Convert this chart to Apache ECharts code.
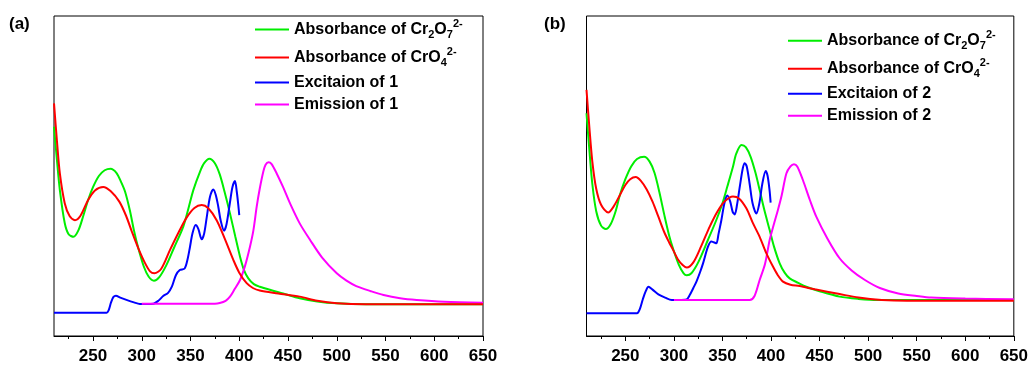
<!DOCTYPE html>
<html>
<head>
<meta charset="utf-8">
<script src="https://cdn.jsdelivr.net/npm/echarts@6/dist/echarts.min.js"></script>
<style>html,body{margin:0;padding:0;background:#fff}#c{width:1031px;height:365px}</style>
</head>
<body>
<div id="c"></div>
<script>
// ---- data (x = wavelength / nm, y = relative intensity) ----
const majorTicks = [250,300,350,400,450,500,550,600,650];
const minorTicks = [225,275,325,375,425,475,525,575,625];
const panelLabels = ['(a)','(b)'];
const seriesNames = ['Absorbance of Cr2O7','Absorbance of CrO4','Excitaion of 1','Emission of 1','Excitaion of 2','Emission of 2'];

const absCr2O7A = [[210,65.4],[213,55],[216,45.6],[221,35.3],[225,31.8],[230,31],[235,33],[240,37.5],[245,42.5],[250,46.5],[256,50],[262,51.8],[268,52.3],[274,51],[279,48],[283,45],[288,39],[292,33],[296.5,27.4],[302,21.8],[307,18.6],[312.5,17.3],[318,18.4],[325,22],[333,27.5],[342.6,34.2],[348,40],[352.9,45.6],[359.8,51.4],[364,54],[369.3,55.4],[375,54],[380,50.5],[385,45],[390.5,38.3],[396,31],[400.8,24.8],[405,20.5],[409.3,18],[415,16.2],[421,15.4],[433,14.3],[445,13.3],[462,11.8],[480,10.8],[500,10.2],[530,9.9],[650,9.9]];
const absCrO4A = [[210,72.7],[213,61],[216,50.8],[221,41.5],[226,37.5],[231.5,36.2],[237,37.5],[245,42.5],[252,45.5],[260.5,46.6],[268,45.3],[277,42],[284,37.5],[290,32.5],[296.5,27.4],[303,23],[308.5,20.2],[313,19.6],[320,21],[329,26.9],[338,32.5],[346,37],[354,40],[361.5,40.9],[368,40],[376.8,36.2],[385,30.5],[393.9,23.8],[400,19.8],[407.6,16.5],[414,15],[421,14.2],[440,13.3],[462,12.3],[480,11],[500,10.2],[530,9.9],[650,9.9]];
const excA = [[210,7.3],[264,7.3],[266,8],[268.5,10.5],[271,12.2],[273.5,12.6],[278,12],[285,11.2],[292,10.5],[298,10],[305,10],[312,10.1],[317,11],[322,12.5],[327,13.5],[331,15.5],[335,19],[339,20.6],[344,21.1],[347,24],[349.5,27.9],[352,32],[355.3,34.7],[358,33.5],[361.5,30.2],[364,32],[366.6,37],[370,43.5],[373.4,45.8],[376,44],[378.5,40.4],[381,36],[384.4,32.9],[387,35],[390.5,41.8],[393,46.5],[395.6,48.4],[397.5,45],[399,41],[400,37.8]];
const emA = [[300,10.1],[340,10.1],[375,10.1],[380,10.3],[386,11],[390.5,12.3],[395,14.5],[400.8,17.5],[406,22],[411,27.9],[414.5,33],[417.9,40.4],[421,46],[424.7,51.4],[427,53.5],[430,54.3],[433,53.8],[438.4,50.8],[445,46.5],[452,41.5],[462,35.2],[472.7,30],[485,24.5],[500,19.6],[510,17.3],[520,15.6],[535,14],[548,12.8],[565,11.8],[582,11.25],[610,10.7],[650,10.4]];

const absCr2O7B = [[210,69.6],[213,58],[216,47.5],[220,39],[225,34.5],[229.9,33.4],[235,35],[240,39],[244.3,44],[250,49],[256,53],[262,55.3],[269.3,56],[275,54.5],[280,51],[285,45],[290,38],[295,31.5],[299,27.4],[305,22.3],[310,19.6],[313.2,19],[318,19.6],[325,23],[335,30],[343.7,36.25],[350,41.5],[355,46.7],[360.8,52.9],[364.2,57],[369.6,59.7],[374,59],[379,56],[384,51],[388.3,45.6],[393,39.5],[398.6,33.1],[403,28],[408.9,22.7],[414,19.8],[419.2,18],[428,16.6],[436.3,15.4],[450,14],[470.6,12.3],[490,11.6],[510,11.25],[650,11.25]];
const absCrO4B = [[210,76.9],[213,65],[216,54.5],[220,46],[225,41],[232.3,38.6],[238,40.5],[244.3,44],[250,47.2],[255,49],[260.7,49.7],[266,48.5],[272,45.8],[278,42],[284,37.3],[290,32.5],[295,29.3],[299,27],[304,24],[309,22.2],[313.2,21.4],[320,23],[328,28],[336.9,34.2],[345,39],[352,42],[360.8,43.6],[367,43],[374.6,39.9],[381,35.5],[388.3,31],[395,26],[402,21.7],[407,19],[412.3,17],[420,16],[429.4,15.6],[445,14.6],[470.6,13.1],[490,12],[514,11.25],[540,11],[650,11]];
const excB = [[210,7.1],[262,7.1],[265,8.5],[268,11.5],[271,14],[273.8,15.4],[278,14.5],[284,13],[291,12],[297.8,11.25],[305,11.25],[313,11.4],[316.3,12.8],[320,15],[323.2,17],[327,20],[330,22.7],[335.1,27.9],[338.6,29.5],[341,29.3],[343.7,29],[346,32],[348.9,36.25],[352,41.5],[355,43.9],[358,42],[360.5,38.8],[362.6,38],[365,41],[368,47],[371,52.5],[372.9,54],[375,53],[378,47.5],[381,41.5],[384.9,38.3],[388,41.5],[391,47.5],[394.5,51.6],[396.5,50],[398.5,45.5],[399.6,41.7]];
const emB = [[300,11.25],[340,11.25],[378,11.25],[383,12.5],[388.3,17.5],[393.8,22.5],[398.6,30],[403,35],[407.1,39.4],[411,44],[415.8,50.8],[420,53],[423.6,53.7],[427,53],[432.8,48.75],[440,42.5],[446.6,37.3],[458,30.5],[470.6,24.3],[483,20.5],[496.7,17.5],[512,15],[531,13.3],[550,12.5],[565,12],[600,11.7],[650,11.5]];

// ---- chart ----
const FONT = "'Liberation Sans', Arial, sans-serif";
const COL = {green:'#00ee00', red:'#ff0000', blue:'#0000ff', magenta:'#ff00ff'};

function legendFormatter(name){
  if (name === 'Absorbance of Cr2O7') return '{t|Absorbance of Cr}{sub|2}{t|O}{sub|7}{sup|2-}';
  if (name === 'Absorbance of CrO4') return '{t|Absorbance of CrO}{sub|4}{sup|2-}';
  return '{t|' + name + '}';
}
const rich = {
  t:{fontSize:16,fontWeight:'bold',fontFamily:FONT,color:'#000'},
  sub:{fontSize:11,fontWeight:'bold',fontFamily:FONT,color:'#000',padding:[11,0,0,0]},
  sup:{fontSize:11,fontWeight:'bold',fontFamily:FONT,color:'#000',padding:[0,0,11,0]}
};

const grids = [
  {left:54, right:548, top:16, bottom:29, show:true, borderColor:'#000', borderWidth:1, containLabel:false},
  {left:586.5, right:17, top:16, bottom:29, show:true, borderColor:'#000', borderWidth:1, containLabel:false}
];
const xAxes = [], yAxes = [];
for (let g=0; g<2; g++){
  xAxes.push({type:'value', gridIndex:g, min:210, max:650, position:'bottom',
    axisLine:{show:true,onZero:false,lineStyle:{color:'#000',width:1}},
    splitLine:{show:false},
    axisTick:{show:true,customValues:majorTicks,length:5,lineStyle:{color:'#000',width:1}},
    axisLabel:{show:true,customValues:majorTicks,margin:12,fontSize:17,fontWeight:'bold',fontFamily:FONT,color:'#000'}});
  xAxes.push({type:'value', gridIndex:g, min:210, max:650, position:'bottom', offset:0,
    axisLine:{show:false}, splitLine:{show:false},
    axisTick:{show:true,customValues:minorTicks,length:3,lineStyle:{color:'#000',width:1}},
    axisLabel:{show:false}});
  yAxes.push({type:'value', gridIndex:g, min:0, max:100, show:false, splitLine:{show:false}});
}

function mk(name, data, color, g){
  return {name:name, type:'line', xAxisIndex:g*2, yAxisIndex:g, data:data, smooth:0.3,
    symbol:'none', showSymbol:false, animation:false,
    lineStyle:{color:color,width:2}, itemStyle:{color:color}};
}

const series = [
  mk('Absorbance of Cr2O7', absCr2O7A, COL.green, 0),
  mk('Excitaion of 1', excA, COL.blue, 0),
  mk('Emission of 1', emA, COL.magenta, 0),
  mk('Absorbance of CrO4', absCrO4A, COL.red, 0),
  mk('Absorbance of Cr2O7', absCr2O7B, COL.green, 1),
  mk('Excitaion of 2', excB, COL.blue, 1),
  mk('Emission of 2', emB, COL.magenta, 1),
  mk('Absorbance of CrO4', absCrO4B, COL.red, 1)
];

function legend(left, top, names){
  return {left:left, top:top, orient:'vertical', padding:0, itemGap:6, itemWidth:34, itemHeight:14,
    selectedMode:false, data:names, formatter:legendFormatter, textStyle:{rich:rich}, icon:'path://M0,6H34V8H0Z'};
}

const chart = echarts.init(document.getElementById('c'), null, {renderer:'canvas'});
chart.setOption({
  animation:false,
  backgroundColor:'#fff',
  title:[
    {text:panelLabels[0], left:9, top:16, padding:0, textStyle:{fontSize:17,fontWeight:'bold',fontFamily:FONT,color:'#000'}},
    {text:panelLabels[1], left:544, top:16, padding:0, textStyle:{fontSize:17,fontWeight:'bold',fontFamily:FONT,color:'#000'}}
  ],
  legend:[
    legend(255, 18.5, [seriesNames[0],seriesNames[1],seriesNames[2],seriesNames[3]]),
    legend(788, 29.7, [seriesNames[0],seriesNames[1],seriesNames[4],seriesNames[5]])
  ],
  grid:grids,
  xAxis:xAxes,
  yAxis:yAxes,
  series:series
});
</script>
</body>
</html>
